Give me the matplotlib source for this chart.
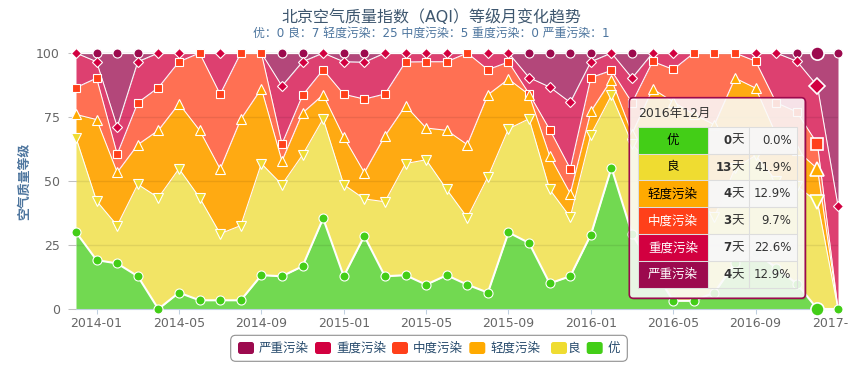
import matplotlib.pyplot as plt
import matplotlib.transforms as mtransforms
from matplotlib.patches import Rectangle, FancyBboxPatch
import numpy as np
import pandas as pd

plt.rcParams['font.family'] = ['DejaVu Sans', 'Noto Sans CJK SC']

# monthly share (%) of days in each AQI level, 2013-12 .. 2017-01
months = pd.date_range('2013-12-01', '2017-01-01', freq='MS').strftime('%Y-%m').tolist()
names = ['优', '良', '轻度污染', '中度污染', '重度污染', '严重污染']

excellent = [30.0, 19.1, 17.8, 12.8, 0.0, 6.4, 3.4, 3.4, 3.4, 13.2, 12.8, 16.7, 35.4, 12.8, 28.5, 12.8, 13.2, 9.5, 13.2,
             9.5, 6.4, 29.9, 25.8, 10.0, 12.8, 29.0, 55.2, 29.3, 16.0, 3.2, 3.2, 6.4, 18.0, 22.0, 16.1, 9.9, 0.0, 0.0]
good = [36.9, 23.1, 14.8, 35.9, 43.5, 48.4, 40.1, 26.0, 29.2, 43.6, 35.8, 43.5, 38.9, 35.8, 14.5, 29.1, 43.6, 48.8, 33.5,
        26.2, 45.2, 40.5, 48.5, 36.7, 23.1, 39.1, 28.3, 35.3, 39.0, 46.8, 41.8, 29.5, 37.0, 38.0, 33.9, 38.1, 41.9, 0.0]
light = [9.1, 31.8, 20.8, 15.5, 26.3, 25.4, 26.3, 25.3, 41.5, 29.3, 9.2, 16.4, 9.4, 18.6, 10.3, 25.7, 22.6, 12.4, 23.1,
         28.5, 32.1, 19.4, 9.4, 13.1, 9.2, 9.1, 6.1, 3.9, 31.0, 30.9, 31.0, 36.1, 35.2, 26.3, 18.0, 14.0, 12.9, 0.0]
moderate = [10.5, 16.2, 7.1, 16.4, 16.7, 16.4, 30.2, 29.2, 25.9, 13.9, 6.7, 6.9, 9.8, 16.7, 28.7, 16.4, 17.1, 25.9, 26.8,
            35.8, 9.8, 6.7, 0.4, 10.3, 9.7, 13.2, 3.6, 12.1, 10.7, 12.7, 24.0, 28.0, 9.8, 10.5, 12.6, 15.0, 9.7, 0.0]
heavy = [13.5, 6.4, 10.7, 16.0, 13.5, 3.4, 0.0, 16.1, 0.0, 0.0, 22.6, 13.1, 6.5, 12.7, 14.4, 16.0, 3.5, 3.4, 3.4,
         0.0, 6.5, 3.5, 6.3, 16.6, 25.9, 6.2, 6.8, 9.6, 3.3, 6.4, 0.0, 0.0, 0.0, 3.2, 19.4, 19.8, 22.6, 40.2]
severe = [0.0, 3.4, 28.8, 3.4, 0.0, 0.0, 0.0, 0.0, 0.0, 0.0, 12.9, 3.4, 0.0, 3.4, 3.6, 0.0, 0.0, 0.0, 0.0,
          0.0, 0.0, 0.0, 9.6, 13.3, 19.3, 3.4, 0.0, 9.8, 0.0, 0.0, 0.0, 0.0, 0.0, 0.0, 0.0, 3.2, 12.9, 59.8]

tick_labels = ['2014-01', '2014-05', '2014-09', '2015-01', '2015-05', '2015-09',
               '2016-01', '2016-05', '2016-09', '2017-01']

# tooltip (hovered month)
tip_month = '2016-12'
tip_title = '2016年12月'
tip_days = [0, 13, 4, 3, 7, 4]
tip_pct = [0.0, 41.9, 12.9, 9.7, 22.6, 12.9]

title = '北京空气质量指数（AQI）等级月变化趋势'
subtitle = '优：0 良：7 轻度污染：25 中度污染：5 重度污染：0 严重污染：1'

colors = ['#43CE17', '#EFDC31', '#FFAA00', '#FF401A', '#D20040', '#9C0A4E']
fills = ['#72D951', '#F2E465', '#FFAA12', '#FF7053', '#DD4070', '#B3477A']
markers = ['o', 'v', '^', 's', 'D', 'o']
msizes = [6.5, 7.5, 7.5, 6.3, 5.0, 6.5]

W, H = 866, 377
fig = plt.figure(figsize=(W / 100, H / 100), dpi=100)
pix = mtransforms.IdentityTransform()


def label(x, y, s, **kw):
    # x, y in pixels from the top-left corner
    return fig.text(x, H - y, s, transform=pix, **kw)


def rbox(x0, y0, x1, y1, r=0, **kw):
    p = FancyBboxPatch((x0, H - y1), x1 - x0, y1 - y0, boxstyle=f'round,pad=0,rounding_size={r}',
                       transform=pix, **kw)
    fig.add_artist(p)
    return p


ax = fig.add_axes([76 / W, 1 - 309 / H, (838 - 76) / W, (309 - 53) / H])
x = np.arange(len(months))
vals = np.array([excellent, good, light, moderate, heavy, severe])
tops = np.cumsum(vals, axis=0)
bottoms = tops - vals

for i in range(len(names)):
    ax.fill_between(x, bottoms[i], tops[i], color=fills[i], lw=0, zorder=1)

for yv in [25, 50, 75]:
    ax.axhline(yv, color='k', alpha=0.08, lw=1, zorder=2)
ax.axhline(100, color='#C0C0C0', lw=1, zorder=2, clip_on=False)

for i in range(len(names)):
    ax.plot(x, tops[i], color='white', lw=1.5 if i == 0 else 0.75, zorder=3, clip_on=False)

hi = months.index(tip_month)
for i in reversed(range(len(names))):
    z = 10 - i
    show = (vals[i] > 0) | (i == 0)
    ax.plot(x[show], tops[i][show], ls='none', marker=markers[i], ms=msizes[i], mfc=colors[i],
            mec='white', mew=0.8, zorder=z, clip_on=False)
    ax.plot([x[hi]], [tops[i][hi]], ls='none', marker=markers[i], ms=msizes[i] + 3, mfc=colors[i],
            mec='white', mew=1.2, zorder=z, clip_on=False)

ax.set_xlim(0, len(months) - 1)
ax.set_ylim(0, 100)
ax.set_yticks([0, 25, 50, 75, 100])
ax.set_xticks([months.index(t) for t in tick_labels])
ax.set_xticklabels(tick_labels)
for s in ['top', 'right', 'left']:
    ax.spines[s].set_visible(False)
ax.spines['bottom'].set_color('#C0D0E0')
ax.spines['bottom'].set_zorder(2.5)
ax.tick_params(axis='y', length=5.5, width=0.75, color='#C0C0C0', pad=6, labelsize=9, labelcolor='#666666')
ax.tick_params(axis='x', length=3.6, width=0.75, color='#C0D0E0', pad=2, labelsize=9, labelcolor='#666666')

# last label is cut off by the chart edge in the original
last = ax.get_xticklabels()[-1]
last.set_clip_box(mtransforms.Bbox([[0, 0], [849, H]]))
last.set_clip_on(True)

label(431, 17, title, ha='center', va='center', fontsize=11.5, color='#3E576F')
label(431, 33, subtitle, ha='center', va='center', fontsize=8.6, color='#4D759E')
label(25, 181, '空气质量等级', ha='center', va='center', rotation=90, fontsize=9.3,
      fontweight='bold', color='#4D759E')

# legend
rbox(230.7, 335.3, 627.3, 361.3, r=5, fc='white', ec='#909090', lw=0.8, zorder=5)
sym_x = [238, 315, 392, 469.3, 551, 586.7]
txt_x = [259, 336, 413.3, 490, 567.3, 607.7]
for k, i in enumerate(reversed(range(len(names)))):
    rbox(sym_x[k], 342, sym_x[k] + 16, 354, r=2.5, fc=colors[i], ec='none', zorder=6)
    label(txt_x[k], 348.5, names[i], ha='left', va='center', fontsize=9, color='#274B6D', zorder=6)

# tooltip
rbox(631, 99.5, 807, 300, r=4, fc=(0, 0, 0, 0.12), ec='none', zorder=7)
rbox(629.3, 97.7, 805.3, 298.3, r=4, fc=(1, 1, 1, 0.86), ec='#9C0A4E', lw=1.2, zorder=8)
label(637.7, 113.5, tip_title, ha='left', va='center', fontsize=9, color='#333333', zorder=9)
cols = [637.7, 708, 749.3, 796.7]
row_h = (288 - 126.7) / 6
for r in range(6):
    y0 = 126.7 + r * row_h
    y1 = y0 + row_h
    yc = (y0 + y1) / 2
    rect = Rectangle((cols[0], H - y1), cols[1] - cols[0], row_h, transform=pix,
                     fc=colors[r], ec='#DDDDDD', lw=0.75, zorder=9)
    fig.add_artist(rect)
    bg = (0.97, 0.97, 0.97, 0.95) if r % 2 == 0 else 'none'
    for c in (1, 2):
        rect = Rectangle((cols[c], H - y1), cols[c + 1] - cols[c], row_h, transform=pix,
                         fc=bg, ec='#DDDDDD', lw=0.75, zorder=9)
        fig.add_artist(rect)
    label((cols[0] + cols[1]) / 2, yc, names[r], ha='center', va='center', fontsize=9,
          color='black' if r < 3 else 'white', zorder=10)
    label(743.5, yc, '天', ha='right', va='center', fontsize=9, color='#333333', zorder=10)
    label(731.5, yc, str(tip_days[r]), ha='right', va='center', fontsize=8.5,
          fontweight='bold', color='#333333', zorder=10)
    label(791.5, yc, f'{tip_pct[r]:.1f}%', ha='right', va='center', fontsize=8.5,
          color='#333333', zorder=10)

fig.savefig('out.png', dpi=100)
